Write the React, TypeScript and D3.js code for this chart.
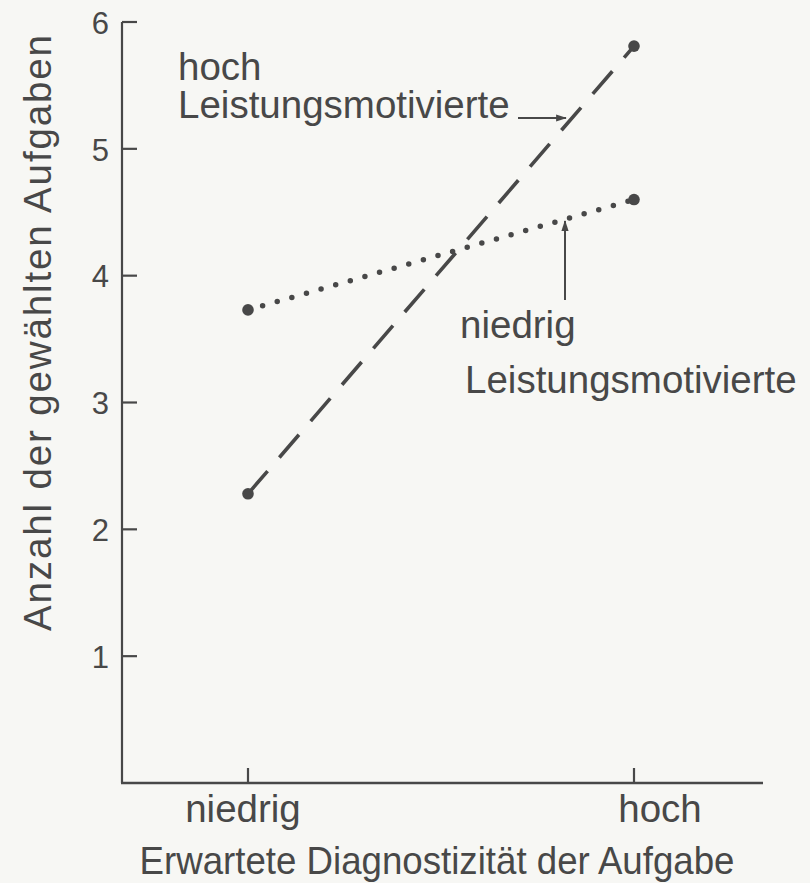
import React from "react";
import * as d3 from "d3";

const categories = ["niedrig", "hoch"];
const seriesHoch = [2.28, 5.81];
const seriesNiedrig = [3.73, 4.6];
const yTicks = [1, 2, 3, 4, 5, 6];
const xTitle = "Erwartete Diagnostizität der Aufgabe";
const yTitle = "Anzahl der gewählten Aufgaben";

const W = 810;
const H = 883;
const INK = "#484848";
const FONT = "'Liberation Sans', Arial, Helvetica, sans-serif";
const FS = 38.5;

export default function App() {
  const x = d3.scalePoint<string>().domain(categories).range([248, 634]).padding(0);
  const y = d3.scaleLinear().domain([0, 6]).range([783, 22]);
  const axisX = 122;
  const axisEnd = 763;
  const line = d3
    .line<number>()
    .x((_, i) => x(categories[i]) as number)
    .y((d) => y(d));

  return (
    <svg
      width={W}
      height={H}
      style={{ position: "absolute", left: 0, top: 0, background: "#f7f7f4" }}
      fontFamily={FONT}
    >
      <defs>
        <marker id="arr" viewBox="0 0 12 10" refX="11" refY="5" markerWidth="12" markerHeight="9" markerUnits="userSpaceOnUse" orient="auto">
          <path d="M0,1 L12,5 L0,9 Z" fill={INK} />
        </marker>
      </defs>
      <rect width={W} height={H} fill="#f7f7f4" />
      {/* y axis */}
      <line x1={axisX} x2={axisX} y1={y(0)} y2={y(6)} stroke={INK} strokeWidth={2.2} />
      {yTicks.map((t) => (
        <g key={t}>
          <line x1={axisX} x2={axisX + 15} y1={y(t)} y2={y(t)} stroke={INK} strokeWidth={2.2} />
          <text x={109} y={y(t)} dy="0.38em" textAnchor="end" fontSize={31} fill={INK}>
            {t}
          </text>
        </g>
      ))}
      {/* x axis */}
      <line x1={axisX - 1} x2={axisEnd} y1={y(0)} y2={y(0)} stroke={INK} strokeWidth={2.4} />
      {categories.map((c) => (
        <line key={c} x1={x(c)} x2={x(c)} y1={y(0)} y2={y(0) - 15} stroke={INK} strokeWidth={2.2} />
      ))}
      <text x={(x("niedrig") as number) - 5} y={822} textAnchor="middle" fontSize={FS} fill={INK}>
        {categories[0]}
      </text>
      <text x={(x("hoch") as number) + 26} y={822} textAnchor="middle" fontSize={FS} fill={INK}>
        {categories[1]}
      </text>
      <text x={437} y={874} textAnchor="middle" fontSize={FS} fill={INK} textLength={595} lengthAdjust="spacingAndGlyphs">
        {xTitle}
      </text>
      <text
        transform={`translate(51, 333) rotate(-90)`}
        textAnchor="middle"
        fontSize={FS}
        fill={INK}
        textLength={596}
        lengthAdjust="spacing"
      >
        {yTitle}
      </text>

      {/* series */}
      <path d={line(seriesHoch) as string} fill="none" stroke={INK} strokeWidth={3.6} strokeDasharray="30 18" />
      <path
        d={line(seriesNiedrig) as string}
        fill="none"
        stroke={INK}
        strokeWidth={5.5}
        strokeLinecap="round"
        strokeDasharray="0 15.2"
      />
      {seriesHoch.map((v, i) => (
        <circle key={"h" + i} cx={x(categories[i])} cy={y(v)} r={5.8} fill={INK} />
      ))}
      {seriesNiedrig.map((v, i) => (
        <circle key={"n" + i} cx={x(categories[i])} cy={y(v)} r={5.8} fill={INK} />
      ))}

      {/* annotations */}
      <text x={178} y={80} fontSize={FS} fill={INK}>hoch</text>
      <text x={178} y={118} fontSize={FS} fill={INK}>Leistungsmotivierte</text>
      <line x1={518} x2={566} y1={118} y2={118} stroke={INK} strokeWidth={2} markerEnd="url(#arr)" />
      <text x={460} y={338} fontSize={FS} fill={INK}>niedrig</text>
      <text x={465} y={393} fontSize={FS} fill={INK}>Leistungsmotivierte</text>
      <line x1={565} x2={565} y1={300} y2={221} stroke={INK} strokeWidth={2} markerEnd="url(#arr)" />
    </svg>
  );
}
